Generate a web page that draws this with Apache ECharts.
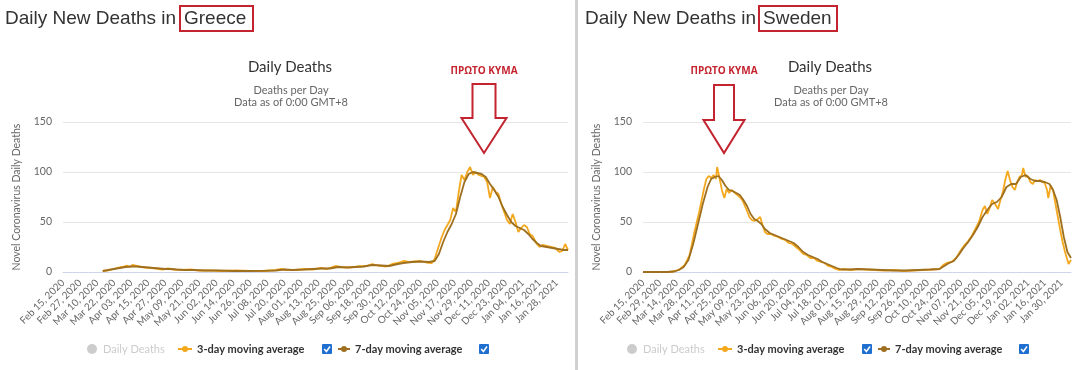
<!DOCTYPE html>
<html>
<head>
<meta charset="utf-8">
<script src="https://cdn.jsdelivr.net/npm/echarts@6/dist/echarts.min.js"></script>
<style>
html,body{margin:0;padding:0;background:#fff;}
#chart{width:1080px;height:370px;}
</style>
</head>
<body>
<div id="chart"></div>
<script>
// ---- Data (day index counted from Feb 15, 2020) ----
const startDate = [2020, 1, 15];
const countries = ['Greece', 'Sweden'];
const greeceMaxDay = 356;
const swedenMaxDay = 358;
const greeceTickStep = 12;
const swedenTickStep = 14;
const yTicks = [0, 50, 100, 150];

const greece3Days = [28,31,34,38,42,45,47,49,52,55,58,62,66,70,74,78,84,90,96,104,112,122,132,142,150,154,158,164,170,176,182,186,192,196,202,208,214,218,222,228,232,236,240,244,248,252,256,260,262,264,267,269,271,273,275,277,279,281,283,285,287,289,291,293,295,297,299,301,303,305,307,309,311,313,315,317,319,321,323,325,327,329,331,334,336,338,341,344,347,350,352,354,356];
const greece3Vals = [1,1.5,2.5,4,5,6.5,5,7,6,5,4.5,4,3.5,2.5,3.5,2.5,2,2.5,1.5,1.5,1,1.5,1,1,2,3,2,2,3,2.5,4,3,6,5,4.5,5.5,6,8,6.5,5.5,8,9,11,10,10.5,11,9.5,9,13,22,35,42,47,52,64,60,80,97,92,100,105,97,100,97,96,95,90,74,85,80,78,68,60,52,48,58,50,40,44,47,45,38,36,28,25,27,26,25,24,20,21,28,22];

const greece7Days = [28,32,36,40,44,48,52,56,60,64,68,72,76,80,86,92,100,110,120,130,140,150,156,162,170,176,182,188,194,200,206,212,218,224,230,236,240,246,252,258,262,265,268,271,274,277,280,283,286,289,292,295,298,301,304,307,310,313,316,319,322,325,328,331,334,337,341,345,349,353,356];
const greece7Vals = [1,2,3,4,5,5.5,5.5,5,4.5,4,3.5,3,3,2.5,2,2,1.5,1.5,1,1,1.2,1.5,2.5,2,2.5,3,3.5,3.5,5,4.5,5,5.5,7,6.5,6,8,9,10,10.5,10,11,18,30,40,48,58,75,90,98,100,99,98,95,88,82,75,65,57,50,46,44,42,38,33,29,26,25,24,23,22,22];

const sweden3Days = [0,22,27,31,35,39,43,47,51,53,55,57,59,61,62,64,66,68,70,72,74,76,78,80,83,86,89,91,93,96,98,100,102,104,107,110,113,116,119,122,125,128,131,134,137,140,143,146,149,152,155,158,161,164,168,174,180,186,194,202,210,218,226,234,242,248,251,254,258,262,266,269,272,275,278,281,284,286,288,290,292,294,297,299,301,303,305,307,309,311,313,315,317,318,320,322,324,326,328,330,332,334,336,338,339,341,343,345,347,349,351,353,355,356,358];
const sweden3Vals = [0,0,1,3,7,17,40,60,83,93,96,94,97,93,105,94,82,74,83,79,82,80,78,76,72,64,55,52,51,53,55,47,40,38,38,36,35,33,32,29,28,25,22,18,17,14,14,11,10,9,6,5,3,2,3,2,3,2.5,2,1.5,2,1,1.5,2,2.5,3,7,9,10,14,22,27,31,36,43,50,62,66,58,64,72,69,63,72,80,92,101,92,85,82,90,95,97,104,95,96,90,88,92,91,92,90,89,82,74,86,82,68,55,42,30,20,12,8,12];

const sweden7Days = [0,20,26,30,34,38,42,46,50,54,57,60,63,66,69,72,75,78,81,84,87,90,93,96,99,102,106,110,114,118,122,126,130,134,138,142,146,150,154,158,162,166,172,180,190,200,210,220,230,240,248,252,256,260,264,268,272,276,280,284,288,292,296,300,304,308,312,316,320,324,328,332,336,340,343,346,349,352,355,358];
const sweden7Vals = [0,0,0.5,2,5,12,28,48,68,85,93,95,96,92,86,82,81,79,77,72,66,58,53,51,48,43,39,37,35,33,31,29,25,20,17,15,13,10,8,6,4,2.5,2.5,3,2.5,2,1.5,1.5,2,2.5,3,6,9,11,17,24,30,37,45,55,62,68,70,75,85,88,88,95,97,93,91,91,90,88,82,72,55,35,20,14];

const seriesNames = ['Daily Deaths', '3-day moving average', '7-day moving average'];

// ---- Helpers ----
const MONTHS = ['Jan','Feb','Mar','Apr','May','Jun','Jul','Aug','Sep','Oct','Nov','Dec'];
function zip(a, b) { return a.map((d, i) => [d, b[i]]); }
function dateLabel(step) {
  return function (v) {
    if (v % step !== 0) return '';
    const t = new Date(Date.UTC(startDate[0], startDate[1], startDate[2]) + v * 86400000);
    const dd = String(t.getUTCDate()).padStart(2, '0');
    return MONTHS[t.getUTCMonth()] + ' ' + dd + ', ' + t.getUTCFullYear();
  };
}

const FONT = 'Lato, "Open Sans", sans-serif';
const C3 = '#f4a81d';
const C7 = '#9e6f1f';
const RED = '#c3242f';

function xAx(gi, max, step) {
  return {
    gridIndex: gi, type: 'value', min: 0, max: max, interval: step,
    axisLine: { show: true, lineStyle: { color: '#ccd6eb', width: 1 } },
    axisTick: { show: false },
    splitLine: { show: false },
    axisLabel: { rotate: 45, fontSize: 10, color: '#666', fontFamily: FONT, margin: 9, formatter: dateLabel(step), hideOverlap: false, showMaxLabel: true }
  };
}
function yAx(gi) {
  return {
    gridIndex: gi, type: 'value', min: yTicks[0], max: yTicks[yTicks.length - 1], interval: 50,
    axisLine: { show: false }, axisTick: { show: false },
    splitLine: { lineStyle: { color: '#e6e6e6', width: 1 } },
    axisLabel: { fontSize: 10.5, color: '#666', fontFamily: FONT, margin: 11 },
    name: 'Novel Coronavirus Daily Deaths', nameLocation: 'middle', nameGap: 41,
    nameTextStyle: { fontSize: 10.5, color: '#666', fontFamily: FONT }
  };
}
function lineSeries(name, gi, days, vals, color, z, w) {
  return {
    name: name, type: 'line', xAxisIndex: gi, yAxisIndex: gi,
    data: zip(days, vals), showSymbol: false, symbol: 'none', z: z,
    lineStyle: { color: color, width: w }, itemStyle: { color: color }
  };
}

// ---- Graphics (titles, annotations, legend) ----
function panelGraphics(px, cx, boxX, boxW, arrow, legendX) {
  const g = [];
  g.push({ type: 'text', x: px + 5, y: 19, style: { text: 'Daily New Deaths in', font: '19px "Liberation Sans", Arial, sans-serif', fill: '#333', textVerticalAlign: 'middle' } });
  g.push({ type: 'text', x: boxX + 4, y: 19, style: { text: countries[px === 0 ? 0 : 1], font: '19px "Liberation Sans", Arial, sans-serif', fill: '#333', textVerticalAlign: 'middle' } });
  g.push({ type: 'rect', shape: { x: boxX, y: 6, width: boxW, height: 25 }, style: { fill: 'none', stroke: RED, lineWidth: 2 } });
  g.push({ type: 'text', x: cx, y: 67, style: { text: 'Daily Deaths', font: '15px ' + FONT, fill: '#333', textAlign: 'center', textVerticalAlign: 'middle' } });
  g.push({ type: 'text', x: cx + 1, y: 90.5, style: { text: 'Deaths per Day', font: '11px ' + FONT, fill: '#666', textAlign: 'center', textVerticalAlign: 'middle' } });
  g.push({ type: 'text', x: cx + 1, y: 102.5, style: { text: 'Data as of 0:00 GMT+8', font: '11px ' + FONT, fill: '#666', textAlign: 'center', textVerticalAlign: 'middle' } });
  // annotation arrow
  const a = arrow;
  g.push({ type: 'text', x: a.cx, y: 71, z: 10, style: { text: 'ΠΡΩΤΟ ΚΥΜΑ', font: 'bold 10px "Open Sans", sans-serif', fill: RED, textAlign: 'center', textVerticalAlign: 'middle' } });
  g.push({ type: 'polygon', z: 10, shape: { points: [
    [a.cx - a.sw, a.top], [a.cx + a.sw, a.top], [a.cx + a.sw, a.neck], [a.cx + a.hw, a.neck],
    [a.cx, a.tip], [a.cx - a.hw, a.neck], [a.cx - a.sw, a.neck]
  ] }, style: { fill: '#fff', stroke: RED, lineWidth: 2 } });
  // legend
  const ly = 349, L = legendX;
  g.push({ type: 'circle', shape: { cx: L + 0, cy: ly, r: 5 }, style: { fill: '#cccccc' } });
  g.push({ type: 'text', x: L + 11, y: ly, style: { text: seriesNames[0], font: '11px ' + FONT, fill: '#cccccc', textVerticalAlign: 'middle' } });
  g.push({ type: 'line', shape: { x1: L + 86, y1: ly, x2: L + 100, y2: ly }, style: { stroke: C3, lineWidth: 2 } });
  g.push({ type: 'circle', shape: { cx: L + 93, cy: ly, r: 3 }, style: { fill: C3 } });
  g.push({ type: 'text', x: L + 105, y: ly, style: { text: seriesNames[1], font: 'bold 11px ' + FONT, fill: '#333', textVerticalAlign: 'middle' } });
  g.push({ type: 'rect', shape: { x: L + 230, y: ly - 5, width: 10, height: 10, r: 1 }, style: { fill: '#1f6fd1' } });
  g.push({ type: 'polyline', shape: { points: [[L + 232.2, ly], [L + 234.4, ly + 2.5], [L + 238, ly - 2.5]] }, style: { stroke: '#fff', lineWidth: 1.5, fill: 'none' } });
  g.push({ type: 'line', shape: { x1: L + 246, y1: ly, x2: L + 258, y2: ly }, style: { stroke: C7, lineWidth: 2 } });
  g.push({ type: 'circle', shape: { cx: L + 252, cy: ly, r: 3 }, style: { fill: C7 } });
  g.push({ type: 'text', x: L + 263, y: ly, style: { text: seriesNames[2], font: 'bold 11px ' + FONT, fill: '#333', textVerticalAlign: 'middle' } });
  g.push({ type: 'rect', shape: { x: L + 387, y: ly - 5, width: 10, height: 10, r: 1 }, style: { fill: '#1f6fd1' } });
  g.push({ type: 'polyline', shape: { points: [[L + 389.2, ly], [L + 391.4, ly + 2.5], [L + 395, ly - 2.5]] }, style: { stroke: '#fff', lineWidth: 1.5, fill: 'none' } });
  return g;
}

const graphics = [].concat(
  panelGraphics(0, 290, 180, 73, { cx: 484, sw: 11.5, hw: 22.5, top: 84, neck: 118, tip: 153 }, 92),
  panelGraphics(580, 830, 759, 78, { cx: 724, sw: 10, hw: 20.5, top: 85, neck: 120, tip: 153 }, 632),
  [{ type: 'rect', shape: { x: 575, y: 0, width: 3, height: 370 }, style: { fill: '#d0d0d0' } }]
);

const chart = echarts.init(document.getElementById('chart'), null, { renderer: 'canvas' });
chart.setOption({
  animation: false,
  backgroundColor: '#fff',
  grid: [
    { left: 63, top: 122, width: 505, height: 150 },
    { left: 643, top: 122, width: 428, height: 150 }
  ],
  xAxis: [xAx(0, greeceMaxDay, greeceTickStep), xAx(1, swedenMaxDay, swedenTickStep)],
  yAxis: [yAx(0), yAx(1)],
  series: [
    lineSeries(seriesNames[1], 0, greece3Days, greece3Vals, C3, 2, 1.8),
    lineSeries(seriesNames[2], 0, greece7Days, greece7Vals, C7, 3, 1.8),
    lineSeries(seriesNames[1], 1, sweden3Days, sweden3Vals, C3, 2, 1.8),
    lineSeries(seriesNames[2], 1, sweden7Days, sweden7Vals, C7, 3, 1.8)
  ],
  graphic: graphics
});
</script>
</body>
</html>
